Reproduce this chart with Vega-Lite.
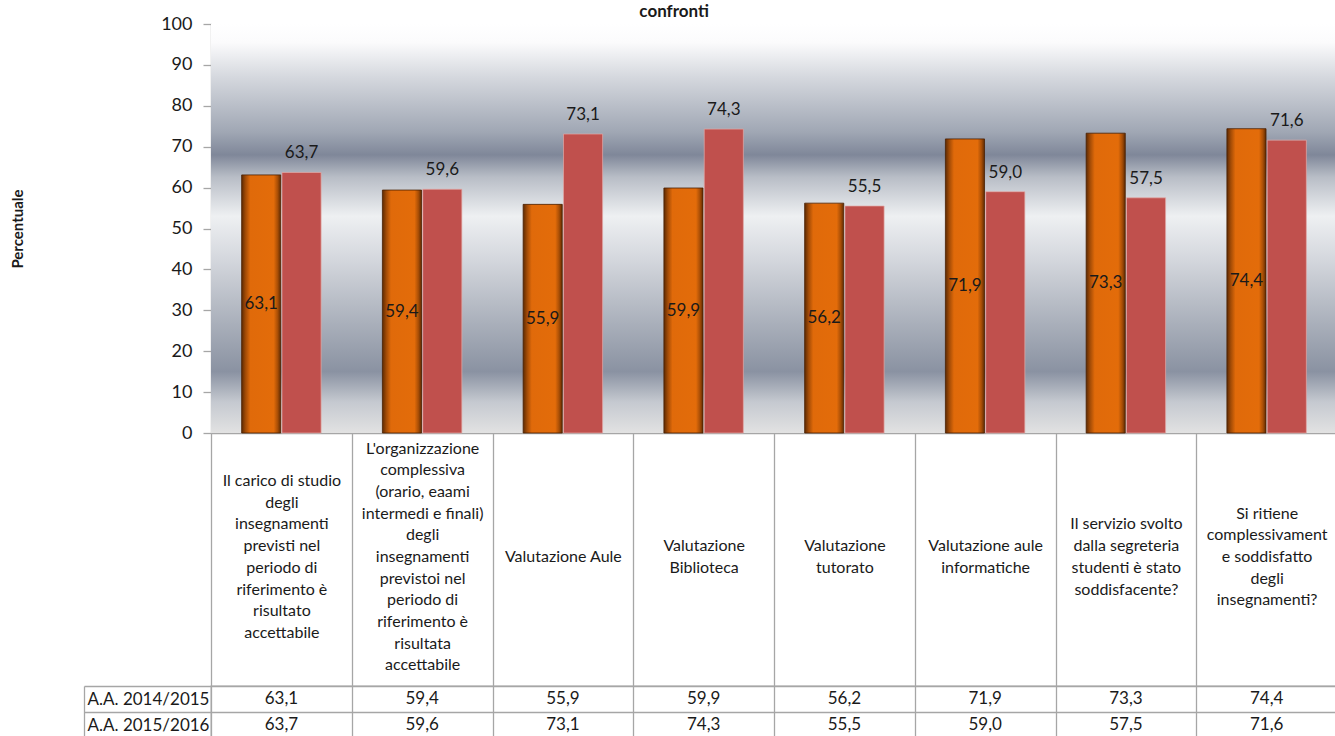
{
  "$schema": "https://vega.github.io/schema/vega-lite/v6.json",
  "padding": {"left": 10, "top": 2, "right": 0, "bottom": 0},
  "background": "white",
  "spacing": 253,
  "bounds": "flush",
  "config": {
    "locale": {"number": {"decimal": ",", "thousands": ".", "grouping": [3], "currency": ["€", ""]}},
    "font": "Lato",
    "axis": {"labelFont": "Lato", "titleFont": "Lato"},
    "text": {"font": "Lato"}
  },
  "title": {"text": "confronti", "fontSize": 17, "fontWeight": "bold", "color": "#1a1a1a", "anchor": "middle", "font": "Lato", "offset": -6, "dy": 0},
  "datasets": {
    "dati": [
      {"domanda": "Il carico di studio\ndegli\ninsegnamenti\nprevisti nel\nperiodo di\nriferimento è\nrisultato\naccettabile", "anno": "A.A. 2014/2015", "valore": 63.1},
      {"domanda": "Il carico di studio\ndegli\ninsegnamenti\nprevisti nel\nperiodo di\nriferimento è\nrisultato\naccettabile", "anno": "A.A. 2015/2016", "valore": 63.7},
      {"domanda": "L'organizzazione\ncomplessiva\n(orario, eaami\nintermedi e finali)\ndegli\ninsegnamenti\nprevistoi nel\nperiodo di\nriferimento è\nrisultata\naccettabile", "anno": "A.A. 2014/2015", "valore": 59.4},
      {"domanda": "L'organizzazione\ncomplessiva\n(orario, eaami\nintermedi e finali)\ndegli\ninsegnamenti\nprevistoi nel\nperiodo di\nriferimento è\nrisultata\naccettabile", "anno": "A.A. 2015/2016", "valore": 59.6},
      {"domanda": "Valutazione Aule", "anno": "A.A. 2014/2015", "valore": 55.9},
      {"domanda": "Valutazione Aule", "anno": "A.A. 2015/2016", "valore": 73.1},
      {"domanda": "Valutazione\nBiblioteca", "anno": "A.A. 2014/2015", "valore": 59.9},
      {"domanda": "Valutazione\nBiblioteca", "anno": "A.A. 2015/2016", "valore": 74.3},
      {"domanda": "Valutazione\ntutorato", "anno": "A.A. 2014/2015", "valore": 56.2},
      {"domanda": "Valutazione\ntutorato", "anno": "A.A. 2015/2016", "valore": 55.5},
      {"domanda": "Valutazione aule\ninformatiche", "anno": "A.A. 2014/2015", "valore": 71.9},
      {"domanda": "Valutazione aule\ninformatiche", "anno": "A.A. 2015/2016", "valore": 59.0},
      {"domanda": "Il servizio svolto\ndalla segreteria\nstudenti è stato\nsoddisfacente?", "anno": "A.A. 2014/2015", "valore": 73.3},
      {"domanda": "Il servizio svolto\ndalla segreteria\nstudenti è stato\nsoddisfacente?", "anno": "A.A. 2015/2016", "valore": 57.5},
      {"domanda": "Si ritiene\ncomplessivament\ne soddisfatto\ndegli\ninsegnamenti?", "anno": "A.A. 2014/2015", "valore": 74.4},
      {"domanda": "Si ritiene\ncomplessivament\ne soddisfatto\ndegli\ninsegnamenti?", "anno": "A.A. 2015/2016", "valore": 71.6}
    ]
  },
  "vconcat": [
    {
      "width": 1126,
      "height": 409,
      "view": {"stroke": "#d9d9d9"},
      "layer": [
        {
          "data": {"values": [{}]},
          "mark": {
            "type": "rect",
            "color": {
              "gradient": "linear", "x1": 0, "y1": 0, "x2": 0, "y2": 1,
              "stops": [
                {"offset": 0, "color": "#ffffff"},
                {"offset": 0.045, "color": "#fbfbfc"},
                {"offset": 0.13, "color": "#d5d8de"},
                {"offset": 0.264, "color": "#a0a7b4"},
                {"offset": 0.32, "color": "#7f8799"},
                {"offset": 0.374, "color": "#b8bdc6"},
                {"offset": 0.47, "color": "#eef0f2"},
                {"offset": 0.58, "color": "#d3d6dc"},
                {"offset": 0.73, "color": "#aab0bb"},
                {"offset": 0.85, "color": "#8a92a2"},
                {"offset": 0.924, "color": "#c5c9d0"},
                {"offset": 1, "color": "#e2e2e2"}
              ]
            }
          },
          "encoding": {}
        },
        {
          "data": {"name": "dati"},
          "encoding": {
            "x": {"field": "domanda", "type": "nominal", "sort": null, "scale": {"paddingInner": 0, "paddingOuter": 0},
              "axis": {"title": null, "labelExpr": "split(datum.label, '\\n')", "labelAngle": 0, "labelBaseline": "middle", "labelAlign": "center", "labelPadding": {"expr": "-129.5 - (length(split(datum.label, '\\n')) - 1) * 10.85"}, "labelFontSize": 16, "labelLineHeight": 21.7, "labelColor": "#1a1a1a", "labelLimit": 0, "labelOverlap": false, "labelBound": false, "tickBand": "extent", "tickSize": 253, "tickColor": "#a6a6a6", "tickWidth": 1.3, "domainColor": "#a6a6a6", "domainWidth": 1.3}},
            "xOffset": {"field": "anno", "type": "nominal", "sort": null, "scale": {"paddingOuter": 0.76, "paddingInner": 0.03}},
            "y": {"field": "valore", "type": "quantitative", "scale": {"domain": [0, 100]},
              "axis": {"title": "Percentuale", "titleFontSize": 15, "titleFontWeight": "bold", "titleColor": "#1a1a1a", "titlePadding": 135, "values": [0, 10, 20, 30, 40, 50, 60, 70, 80, 90, 100], "labelFontSize": 18, "labelColor": "#1a1a1a", "labelPadding": 11, "tickSize": 8, "tickColor": "#a6a6a6", "tickWidth": 1.3, "domainColor": "#a6a6a6", "domainWidth": 1.3, "grid": false}}
          },
          "layer": [
            {
              "transform": [{"filter": {"field": "anno", "equal": "A.A. 2014/2015"}}],
              "mark": {
                "type": "bar",
                "stroke": "#4a2000", "strokeWidth": 0.8,
                "color": {
                  "gradient": "linear", "x1": 0, "y1": 0, "x2": 1, "y2": 0,
                  "stops": [
                    {"offset": 0, "color": "#5e2a02"},
                    {"offset": 0.1, "color": "#a24b06"},
                    {"offset": 0.22, "color": "#e06a0a"},
                    {"offset": 0.82, "color": "#e36c0a"},
                    {"offset": 0.92, "color": "#a84e06"},
                    {"offset": 1, "color": "#5e2a02"}
                  ]
                }
              }
            },
            {
              "transform": [{"filter": {"field": "anno", "equal": "A.A. 2015/2016"}}],
              "mark": {"type": "bar", "color": "#c0504d", "stroke": "#e3aaa8", "strokeWidth": 0.7}
            },
            {
              "transform": [{"filter": {"field": "anno", "equal": "A.A. 2015/2016"}}],
              "mark": {"type": "text", "fontSize": 17, "color": "#1a1a1a", "baseline": "middle", "dy": -19},
              "encoding": {"text": {"field": "valore", "type": "quantitative", "format": ".1f"}}
            }
          ]
        },
        {
          "data": {"name": "dati"},
          "transform": [{"filter": {"field": "anno", "equal": "A.A. 2014/2015"}}],
          "mark": {"type": "text", "fontSize": 17, "color": "#1a1a1a", "baseline": "middle"},
          "encoding": {
            "x": {"field": "domanda", "type": "nominal", "sort": null, "scale": {"paddingInner": 0, "paddingOuter": 0}},
            "xOffset": {"field": "anno", "type": "nominal", "sort": null},
            "y": {"field": "valore", "type": "quantitative", "scale": {"domain": [0, 200]}, "axis": null},
            "text": {"field": "valore", "type": "quantitative", "format": ".1f"}
          }
        }
      ],
      "resolve": {"scale": {"y": "independent"}}
    },
    {
      "width": 1126,
      "height": 52,
      "data": {"name": "dati"},
      "view": {"stroke": "#a6a6a6", "strokeWidth": 1.3},
      "mark": {"type": "text", "fontSize": 17, "color": "#1a1a1a", "baseline": "middle"},
      "encoding": {
        "x": {"field": "domanda", "type": "nominal", "sort": null, "scale": {"paddingInner": 0, "paddingOuter": 0},
          "axis": {"title": null, "labels": false, "ticks": false, "domain": false, "grid": true, "tickBand": "extent", "gridColor": "#a6a6a6", "gridWidth": 1.3}},
        "y": {"field": "anno", "type": "nominal", "sort": null, "scale": {"paddingInner": 0, "paddingOuter": 0},
          "axis": {"title": null, "offset": 127, "tickSize": -127, "tickBand": "extent", "tickColor": "#a6a6a6", "tickWidth": 1.3, "domain": true, "domainColor": "#a6a6a6", "domainWidth": 1.3, "grid": true, "gridColor": "#a6a6a6", "gridWidth": 1.3, "labelAlign": "left", "labelPadding": 124, "labelFontSize": 17, "labelColor": "#1a1a1a", "labelBaseline": "middle"}},
        "text": {"field": "valore", "type": "quantitative", "format": ".1f"}
      }
    }
  ]
}
